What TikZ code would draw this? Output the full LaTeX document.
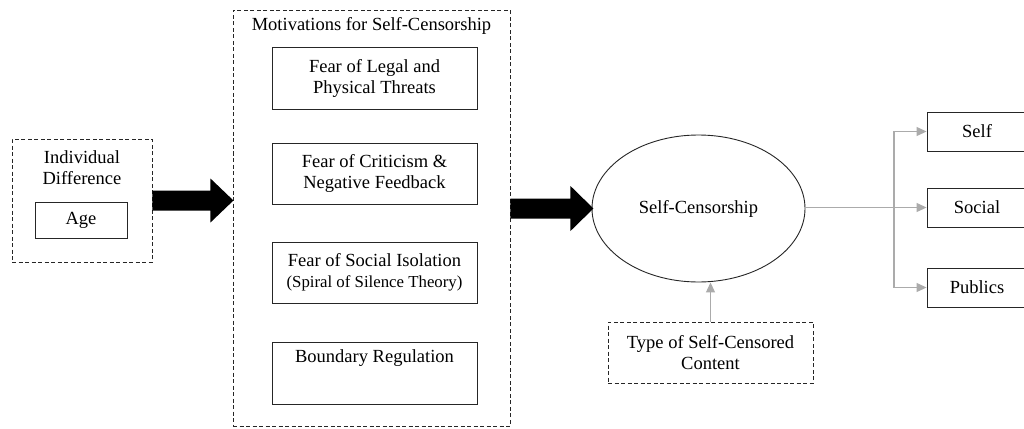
\documentclass[tikz,border=0pt]{standalone}
\usepackage{fontspec}
\setmainfont{Liberation Serif}
\newfontfamily\timesfont{Liberation Serif}
\usetikzlibrary{shapes.geometric,arrows.meta}
\begin{document}
\begin{tikzpicture}[x=1pt,y=-1pt,
  font=\timesfont\fontsize{18.5}{21}\selectfont,
  solidbox/.style={draw=black!85, line width=0.9pt, inner sep=0pt, align=center},
  dashbox/.style={draw=black!85, line width=0.9pt, dash pattern=on 4pt off 2.5pt, inner sep=0pt},
  plain/.style={inner sep=0pt, align=center},
  garr/.style={draw=black!33, line width=1.2pt, -{Triangle[length=10pt,width=9pt]}},
  fatarrow/.style={fill=black}]
\useasboundingbox (0,0) rectangle (1024,428);
\clip (0,0) rectangle (1024,428);

% Individual difference
\node[dashbox, minimum width=140pt, minimum height=123pt] (ind) at (82,200.5) {};
\node[plain] (indt) at (82,167.5) {Individual\\Difference};
\node[solidbox, minimum width=92pt, minimum height=36pt] (age) at (81,220) {Age};

% Motivations
\node[dashbox, minimum width=277pt, minimum height=416pt] (mot) at (371.5,218) {};
\node[plain] (mott) at (371.5,26) {Motivations for Self-Censorship};
\node[solidbox, minimum width=205pt, minimum height=62pt] (m1) at (374.5,78) {Fear of Legal and\\Physical Threats};
\node[solidbox, minimum width=205pt, minimum height=61pt] (m2) at (374.5,173.5) {Fear of Criticism \&\\Negative Feedback};
\node[solidbox, minimum width=205pt, minimum height=61pt] (m3) at (374.5,272.5) {Fear of Social Isolation\\{\fontsize{16.8}{20}\selectfont (Spiral of Silence Theory)}};
\node[solidbox, minimum width=205pt, minimum height=62pt] (m4) at (374.5,373) {};
\node[plain] (m4t) at (374.5,358) {Boundary Regulation};

% Self-censorship
\node[draw=black!85, line width=0.9pt, ellipse, inner sep=0pt, minimum width=213pt, minimum height=147pt] (sc) at (698.5,208.5) {Self-Censorship};
\node[dashbox, minimum width=205pt, minimum height=61pt, align=center] (type) at (710.5,352.5) {Type of Self-Censored\\Content};

% Outcomes
\node[solidbox, minimum width=100pt, minimum height=39pt] (self) at (977,131.5) {Self};
\node[solidbox, minimum width=100pt, minimum height=39pt] (social) at (977,207.5) {Social};
\node[solidbox, minimum width=100pt, minimum height=39pt] (pub) at (977,287.5) {Publics};

% Fat arrows
\fill[fatarrow] (ind.east) ++(0,-10) -- ++(58,0) -- ++(0,-12) -- ++(23,22) -- ++(-23,22) -- ++(0,-12) -- ++(-58,0) -- cycle;
\coordinate (a2) at (mot.east |- sc.west);
\fill[fatarrow] (a2) ++(0,-10) -- ++(60,0) -- ++(0,-12.5) -- ++(23,22.5) -- ++(-23,22.5) -- ++(0,-12.5) -- ++(-60,0) -- cycle;

% Gray connectors
\coordinate (br) at (894,207.5);
\draw[garr] (sc.east |- social.west) -- (social.west);
\draw[garr] (br) |- (self.west);
\draw[garr] (br) |- (pub.west);
\draw[garr] (type.north) -- (type.north |- sc.south);
\end{tikzpicture}
\end{document}
